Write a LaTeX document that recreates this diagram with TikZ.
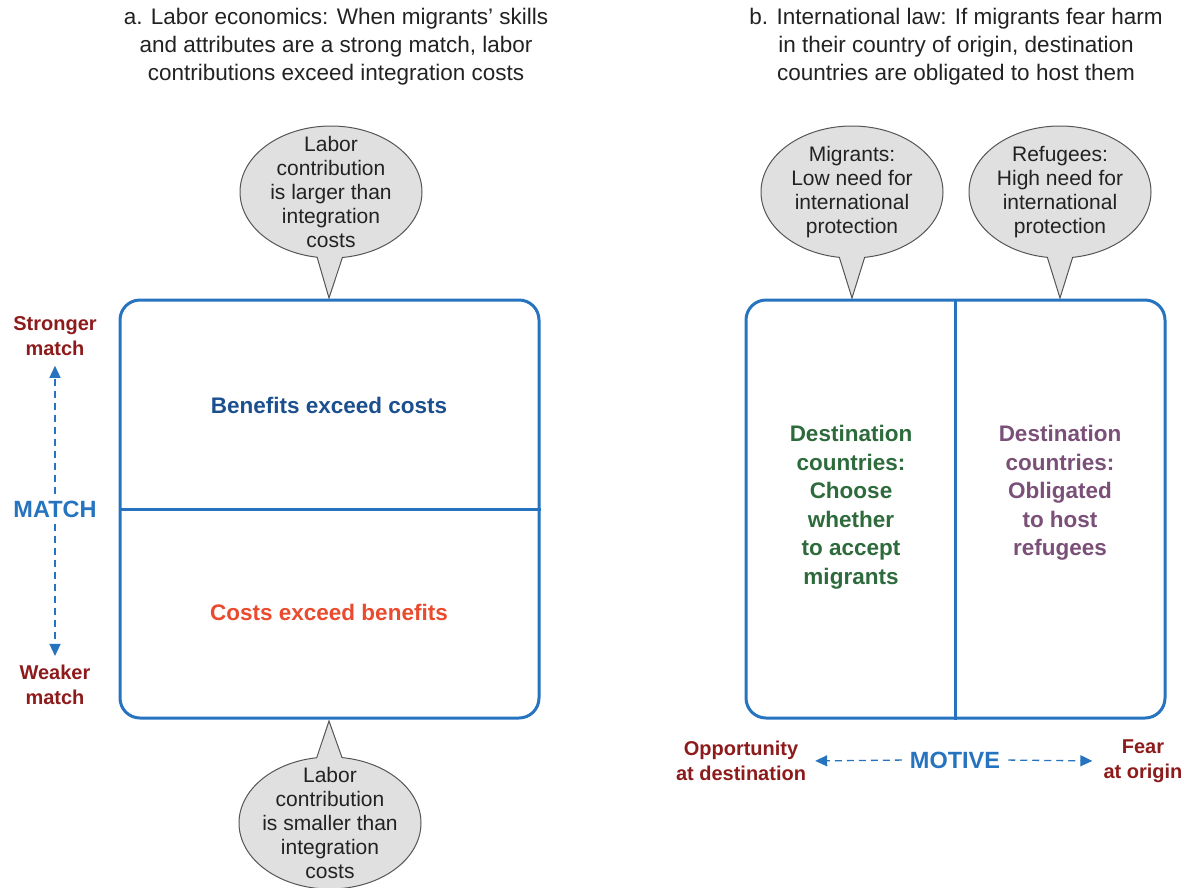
\documentclass[tikz,border=0pt]{standalone}
\usepackage{fontspec}
\setmainfont{Liberation Sans}
\usetikzlibrary{shapes.callouts,arrows.meta}
\definecolor{boxblue}{HTML}{2673BF}
\definecolor{darkred}{HTML}{8E1B1B}
\definecolor{benblue}{HTML}{1C4F8E}
\definecolor{costred}{HTML}{EA4A2D}
\definecolor{dgreen}{HTML}{2E6B3C}
\definecolor{mauve}{HTML}{7A5078}
\definecolor{bubfill}{HTML}{E0E0E0}
\definecolor{bubline}{HTML}{555555}
\definecolor{txt}{HTML}{222222}
\begin{document}
\begin{tikzpicture}[x=1pt,y=-1pt,
  title/.style={align=center,text=txt,font=\fontsize{22.5}{28}\selectfont},
  panel/.style={draw=boxblue,line width=3pt,rounded corners=20pt,minimum width=419pt,minimum height=418pt,inner sep=0pt},
  bubble/.style={ellipse callout,draw=bubline,fill=bubfill,line width=1pt,minimum width=182pt,minimum height=132pt,inner sep=0pt,callout pointer arc=16},
  bubtext/.style={align=center,text=txt,font=\fontsize{21}{24}\selectfont,inner sep=0pt},
  axlab/.style={align=center,text=darkred,font=\bfseries\fontsize{20}{25}\selectfont,inner sep=1pt},
  axis/.style={text=boxblue,font=\bfseries\fontsize{23.5}{27}\selectfont,inner sep=2pt},
  inner/.style={align=center,font=\bfseries\fontsize{22.5}{28.5}\selectfont},
  axarrow/.style={draw=boxblue,line width=1.3pt,dash pattern=on 7pt off 5pt,-{Triangle[length=12pt,width=11pt]}}
]
\useasboundingbox (0,0) rectangle (1195,887);

% titles
\node[title] (ta) at (336,47) {a. Labor economics: When migrants’ skills\\and attributes are a strong match, labor\\contributions exceed integration costs};
\node[title] (tb) at (956,47) {b. International law: If migrants fear harm\\in their country of origin, destination\\countries are obligated to host them};

% panel a
\coordinate (tipA1) at (329,298);
\coordinate (tipA2) at (329,721);
\node[bubble,callout absolute pointer=(tipA1)] (bA1) at (331,192) {};
\node[bubtext] (bA1t) at (bA1.center) {Labor\\contribution\\is larger than\\integration\\costs};
\node[bubble,callout absolute pointer=(tipA2)] (bA2) at (330,823) {};
\node[bubtext] (bA2t) at (bA2.center) {Labor\\contribution\\is smaller than\\integration\\costs};

\node[panel] (pA) at (329.5,509) {};
\draw[boxblue,line width=3pt] (pA.west) -- (pA.east);
\node[inner,text=benblue] (ben) at (329,405) {Benefits exceed costs};
\node[inner,text=costred] (cost) at (329,612) {Costs exceed benefits};

\node[axlab] (strong) at (55,336) {Stronger\\match};
\node[axis] (match) at (55,509) {MATCH};
\node[axlab] (weak) at (55,685) {Weaker\\match};
\draw[axarrow,shorten <=4pt,shorten >=9pt] (match.north) -- (strong.south);
\draw[axarrow,shorten <=4pt,shorten >=8pt] (match.south) -- (weak.north);

% panel b
\coordinate (tipB1) at (852,298);
\coordinate (tipB2) at (1060,298);
\node[bubble,callout absolute pointer=(tipB1)] (bB1) at (852,192) {};
\node[bubtext] (bB1t) at (bB1.center) {Migrants:\\Low need for\\international\\protection};
\node[bubble,callout absolute pointer=(tipB2)] (bB2) at (1060,192) {};
\node[bubtext] (bB2t) at (bB2.center) {Refugees:\\High need for\\international\\protection};

\node[panel] (pB) at (955.5,509) {};
\draw[boxblue,line width=3pt] (pB.north) -- (pB.south);
\node[inner,text=dgreen] (dest1) at (851,507) {Destination\\countries:\\Choose\\whether\\to accept\\migrants};
\node[inner,text=mauve] (dest2) at (1060,493) {Destination\\countries:\\Obligated\\to host\\refugees};

\node[axlab] (opp) at (741,761) {Opportunity\\at destination};
\node[axis] (motive) at (955,760) {MOTIVE};
\node[axlab] (fear) at (1143,761) {Fear\\at origin};
\draw[axarrow,shorten <=6pt,shorten >=8pt] (motive.west) -- (opp.east);
\draw[axarrow,shorten <=6pt,shorten >=10pt] (motive.east) -- (fear.west);
\end{tikzpicture}
\end{document}
